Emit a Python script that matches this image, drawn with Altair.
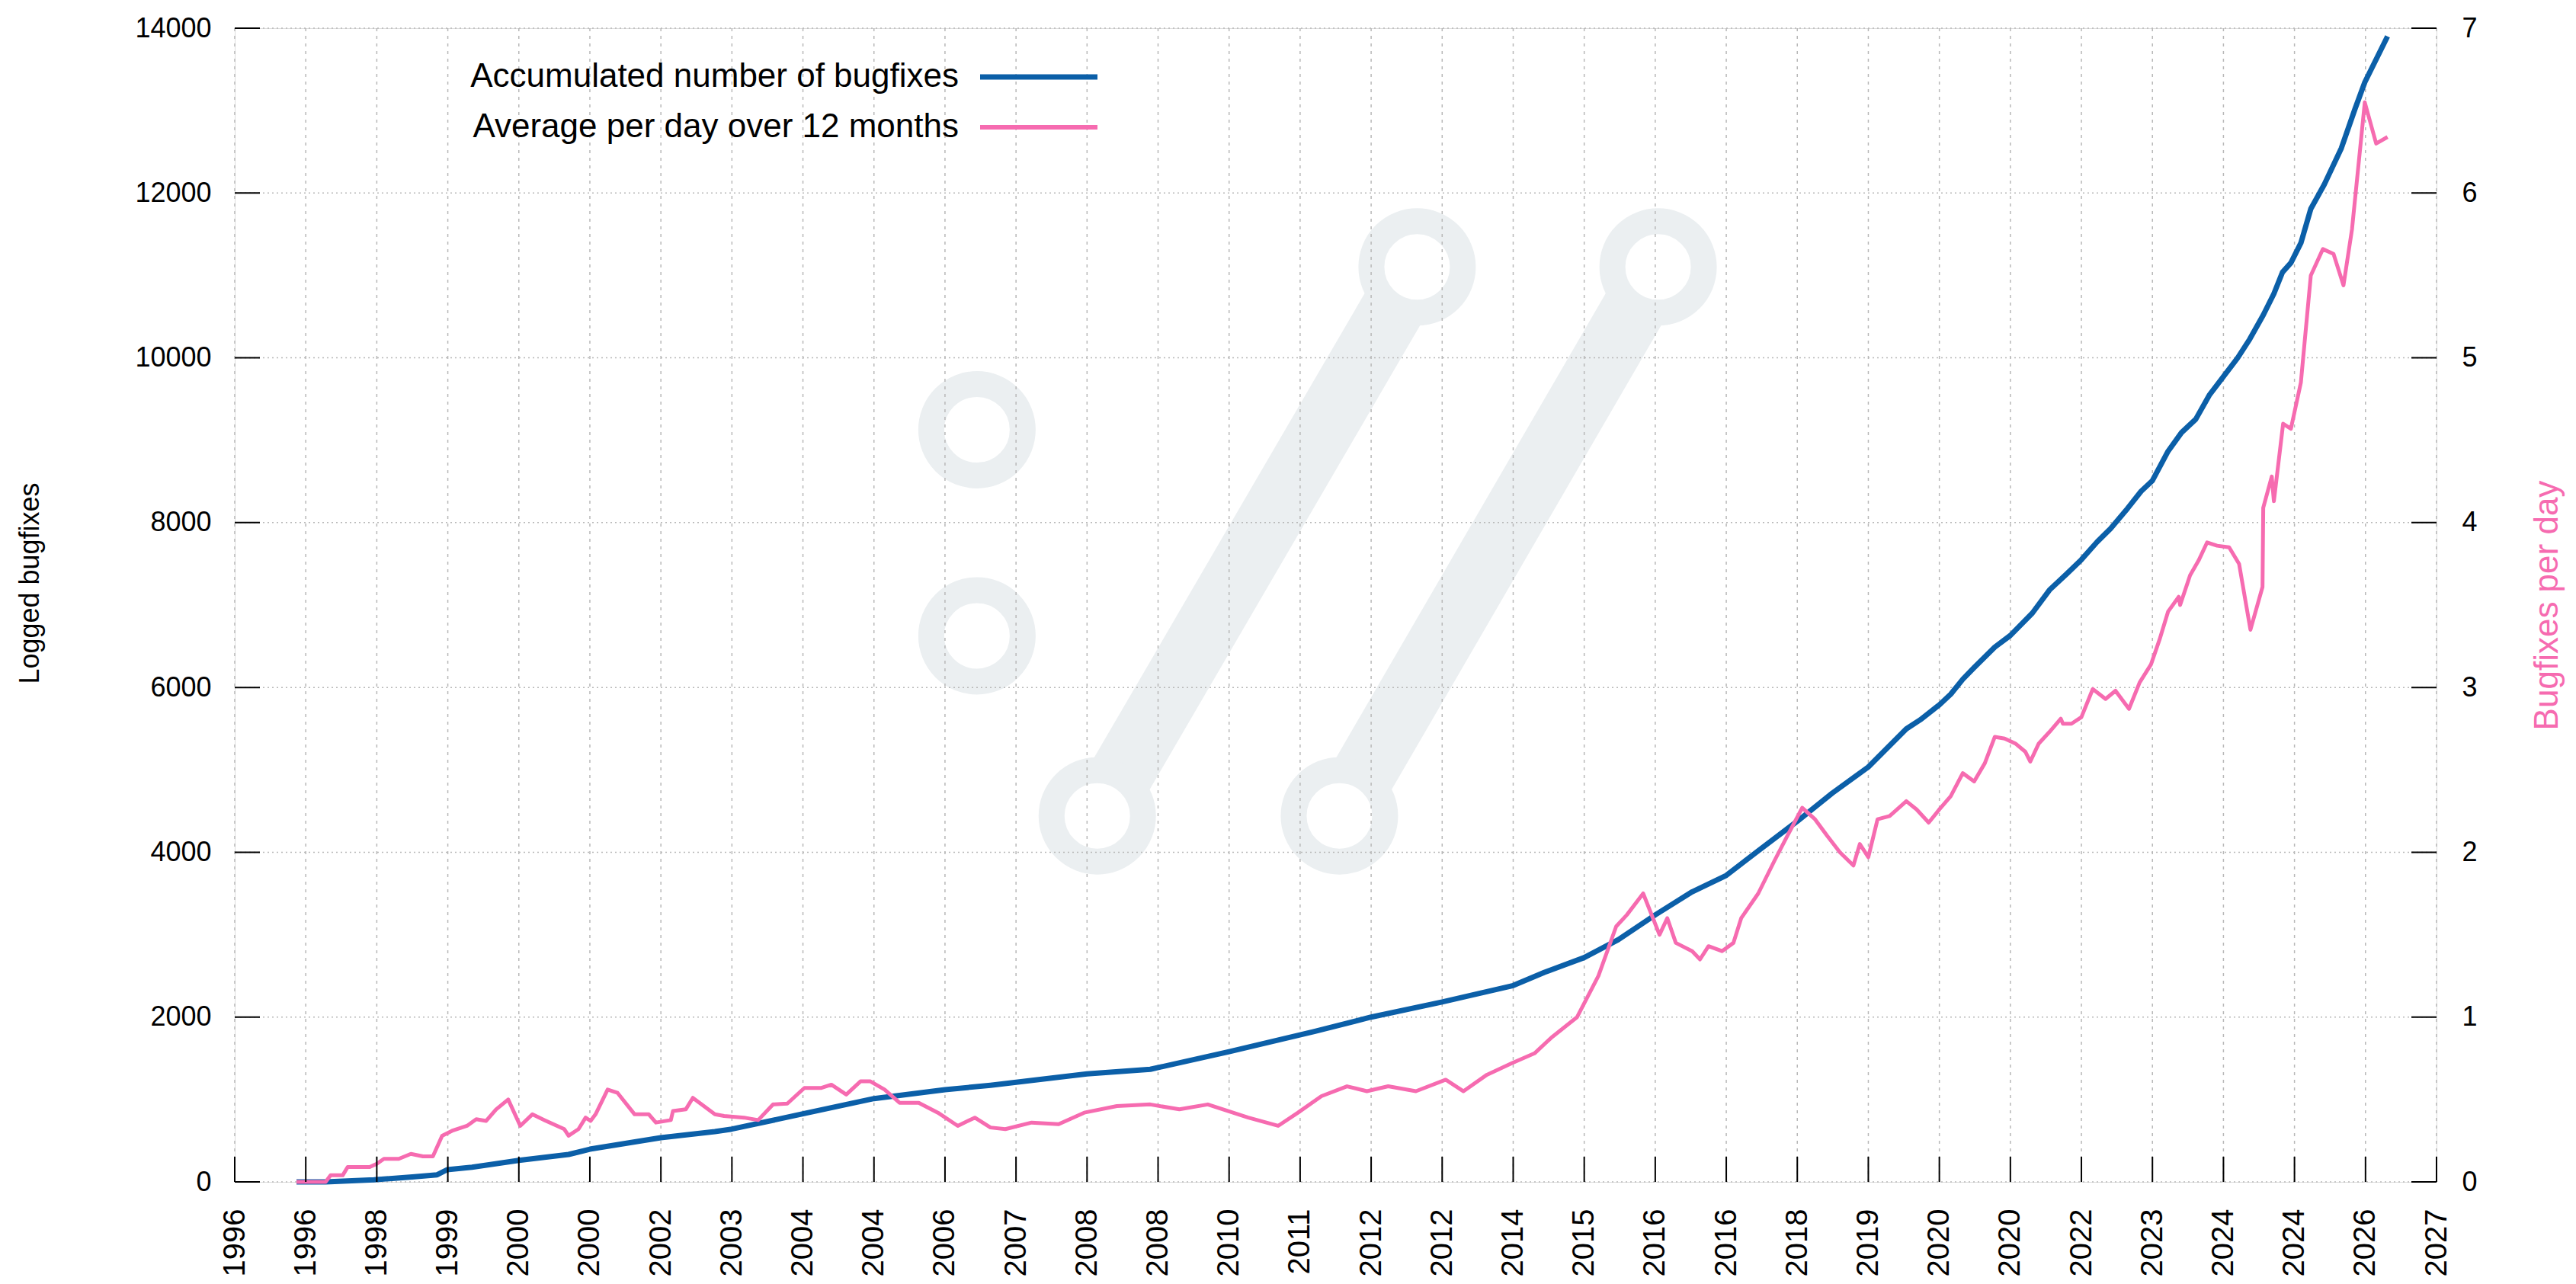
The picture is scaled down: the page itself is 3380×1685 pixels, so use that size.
import altair as alt
import pandas as pd

# ---------------- data ----------------
x_tick_labels = ["1996", "1996", "1998", "1999", "2000", "2000", "2002", "2003",
                 "2004", "2004", "2006", "2007", "2008", "2008", "2010", "2011",
                 "2012", "2012", "2014", "2015", "2016", "2016", "2018", "2019",
                 "2020", "2020", "2022", "2023", "2024", "2024", "2026", "2027"]
x_tick_values = list(range(1996, 2028))
y_left_ticks = [0, 2000, 4000, 6000, 8000, 10000, 12000, 14000]
y_right_ticks = [0, 1, 2, 3, 4, 5, 6, 7]

blue_years = [1996.87, 1997.28, 1997.96, 1998.5, 1998.85, 1998.99, 1999.34, 2000.0,
              2000.7, 2001.0, 2002.0, 2002.76, 2003.0, 2004.0, 2005.0, 2006.0,
              2006.64, 2007.5, 2008.0, 2008.89, 2010.0, 2011.2, 2012.0, 2013.0,
              2014.0, 2014.44, 2015.0, 2015.48, 2016.0, 2016.52, 2017.0, 2017.45,
              2018.0, 2018.49, 2019.0, 2019.535, 2019.73,
              2020.0, 2020.16, 2020.33, 2020.49, 2020.78, 2021.0, 2021.31, 2021.55,
              2021.79, 2022.0, 2022.22, 2022.41, 2022.65, 2022.84, 2023.0, 2023.22,
              2023.41, 2023.61, 2023.8, 2024.0, 2024.2, 2024.37, 2024.56, 2024.71,
              2024.83, 2024.95, 2025.09, 2025.23, 2025.42, 2025.66, 2025.85, 2025.99,
              2026.31]
blue_values = [0, 0, 25, 60, 86, 148, 178, 261,
               333, 397, 536, 610, 641, 826, 1011, 1118,
               1173, 1260, 1310, 1366, 1580, 1825, 2000, 2183,
               2383, 2543, 2722, 2940, 3240, 3520, 3719, 4018,
               4377, 4716, 5035, 5497, 5607,
               5789, 5918, 6100, 6242, 6489, 6631, 6903, 7182,
               7376, 7551, 7765, 7927, 8173, 8380, 8510, 8866,
               9093, 9255, 9546, 9773, 10000, 10227, 10518, 10777,
               11037, 11153, 11393, 11808, 12104, 12544, 13015, 13344,
               13900]

pink_years = [1996.87, 1997.28, 1997.35, 1997.52, 1997.59, 1997.90, 1998.00, 1998.10,
              1998.31, 1998.48, 1998.65, 1998.79, 1998.92, 1999.06, 1999.27, 1999.40,
              1999.54, 1999.68, 1999.85, 2000.02, 2000.19, 2000.36, 2000.64, 2000.70,
              2000.84, 2000.94, 2001.01, 2001.08, 2001.25, 2001.39, 2001.63, 2001.83,
              2001.93, 2002.14, 2002.17, 2002.35, 2002.45, 2002.76, 2002.89, 2003.17,
              2003.37, 2003.58, 2003.78, 2004.02, 2004.26, 2004.40, 2004.61, 2004.81,
              2004.95, 2005.15, 2005.36, 2005.63, 2005.90, 2006.18, 2006.42, 2006.64,
              2006.85, 2007.22, 2007.6, 2007.96, 2008.42, 2008.89, 2009.3, 2009.7,
              2010.27, 2010.69, 2010.97, 2011.3, 2011.66, 2011.94, 2012.24, 2012.63,
              2013.05, 2013.3, 2013.63, 2013.98, 2014.3, 2014.55, 2014.9, 2015.2,
              2015.45, 2015.6, 2015.83, 2016.06, 2016.17, 2016.29, 2016.52, 2016.63,
              2016.75, 2016.94, 2017.1, 2017.21, 2017.45, 2017.68, 2017.86, 2018.07,
              2018.25, 2018.42, 2018.6, 2018.79, 2018.88, 2019.0, 2019.13, 2019.3,
              2019.535, 2019.68, 2019.85, 2020.0, 2020.16, 2020.33, 2020.49, 2020.64,
              2020.78, 2020.92, 2021.07, 2021.21, 2021.28, 2021.40, 2021.55, 2021.71,
              2021.74, 2021.86, 2022.0, 2022.16, 2022.34, 2022.48, 2022.67, 2022.82,
              2022.98, 2023.10, 2023.22, 2023.37, 2023.39, 2023.53, 2023.65, 2023.77,
              2023.91, 2024.08, 2024.22, 2024.38, 2024.55, 2024.56, 2024.68, 2024.71,
              2024.84, 2024.95, 2025.09, 2025.23, 2025.40, 2025.55, 2025.69, 2025.81,
              2025.99, 2026.15, 2026.31]
pink_values = [0, 0, 0.04, 0.04, 0.09, 0.09, 0.11, 0.14,
               0.14, 0.17, 0.155, 0.155, 0.28, 0.31, 0.34, 0.38,
               0.37, 0.44, 0.50, 0.34, 0.41, 0.375, 0.32, 0.28,
               0.32, 0.39, 0.37, 0.41, 0.56, 0.54, 0.41, 0.41,
               0.36, 0.375, 0.43, 0.44, 0.51, 0.41, 0.40, 0.39,
               0.375, 0.47, 0.475, 0.57, 0.57, 0.59, 0.53, 0.61,
               0.61, 0.56, 0.48, 0.48, 0.42, 0.34, 0.39, 0.33,
               0.32, 0.36, 0.35, 0.42, 0.46, 0.47, 0.44, 0.47,
               0.39, 0.34, 0.42, 0.52, 0.58, 0.55, 0.58, 0.55,
               0.62, 0.55, 0.65, 0.72, 0.78, 0.88, 1.0, 1.25,
               1.55, 1.62, 1.75, 1.5, 1.6, 1.45, 1.4, 1.35,
               1.43, 1.4, 1.45, 1.6, 1.75, 1.95, 2.1, 2.27,
               2.2, 2.1, 2.0, 1.92, 2.05, 1.97, 2.2, 2.22,
               2.31, 2.26, 2.18, 2.26, 2.34, 2.48, 2.43, 2.54,
               2.70, 2.69, 2.66, 2.61, 2.55, 2.66, 2.73, 2.81,
               2.78, 2.78, 2.82, 2.99, 2.93, 2.98, 2.87, 3.03,
               3.14, 3.29, 3.46, 3.55, 3.50, 3.68, 3.77, 3.88,
               3.86, 3.85, 3.75, 3.35, 3.61, 4.09, 4.28, 4.13,
               4.60, 4.57, 4.85, 5.50, 5.66, 5.63, 5.44, 5.78,
               6.55, 6.30, 6.34]

# watermark (curl logo) placed in data units
logo_ring_x = [2006.45, 2006.45, 2008.144, 2012.647, 2011.553, 2016.04]
logo_ring_y = [9127, 6626, 4442, 11103, 4442, 11103]
logo_slash_from = [(2008.144, 4442), (2011.553, 4442)]
logo_slash_to = [(2012.647, 11103), (2016.04, 11103)]

legend_labels = ["Accumulated number of bugfixes", "Average per day over 12 months"]

# ---------------- styling ----------------
W, H = 2889, 1514
BLUE = "#0b5fa8"
PINK = "#f66bb0"
WM = "#ebeff1"
GRID = "#b8b8b8"
FONT = "Liberation Sans"
TICK_LEN = 33

blue_df = pd.DataFrame({"year": blue_years, "value": blue_values})
pink_df = pd.DataFrame({"year": pink_years, "value": pink_values})


def xs():
    return alt.Scale(domain=[1996, 2027], nice=False, zero=False)


def ys():
    return alt.Scale(domain=[0, 14000], nice=False)


label_expr = "[" + ",".join("'%s'" % s for s in x_tick_labels) + "][datum.value - 1996]"

# watermark
rings_df = pd.DataFrame({"year": logo_ring_x, "value": logo_ring_y})
rings = alt.Chart(rings_df).mark_point(
    shape="circle", filled=False, size=14400, strokeWidth=34, color=WM, opacity=1
).encode(
    x=alt.X("year:Q", scale=xs(), axis=None),
    y=alt.Y("value:Q", scale=ys(), axis=None),
)
frac = 0.072
slash_rows = []
for (x0, y0), (x1, y1) in zip(logo_slash_from, logo_slash_to):
    slash_rows.append({
        "x": x0 + (x1 - x0) * frac, "y": y0 + (y1 - y0) * frac,
        "x2": x1 - (x1 - x0) * frac, "y2": y1 - (y1 - y0) * frac,
    })
slashes = alt.Chart(pd.DataFrame(slash_rows)).mark_rule(
    strokeWidth=84, color=WM, strokeCap="butt"
).encode(
    x=alt.X("x:Q", scale=xs(), axis=None), x2="x2:Q",
    y=alt.Y("y:Q", scale=ys(), axis=None), y2="y2:Q",
)

# grid
vgrid = alt.Chart(pd.DataFrame({"year": x_tick_values})).mark_rule(
    color=GRID, strokeWidth=1.5, strokeDash=[4, 6]
).encode(x=alt.X("year:Q", scale=xs(), axis=None))
hgrid = alt.Chart(pd.DataFrame({"value": y_left_ticks})).mark_rule(
    color=GRID, strokeWidth=1.5, strokeDash=[2, 4]
).encode(y=alt.Y("value:Q", scale=ys(), axis=None))

# blue line with left axis and bottom axis
blue = alt.Chart(blue_df).mark_line(color=BLUE, strokeWidth=7, strokeJoin="round").encode(
    x=alt.X("year:Q", scale=xs(), axis=alt.Axis(
        orient="bottom", values=x_tick_values, labelExpr=label_expr, labelAngle=270,
        labelFontSize=40, labelFont=FONT, labelColor="black", labelPadding=35,
        ticks=False, domain=False, grid=False, title=None, labelOverlap=False,
        labelFlush=False)),
    y=alt.Y("value:Q", scale=ys(), axis=alt.Axis(
        orient="left", values=y_left_ticks, labelFontSize=36, labelFont=FONT,
        labelColor="black", labelPadding=31, ticks=False, domain=False, grid=False,
        format="d", title="Logged bugfixes", titleFont=FONT, titleFontSize=36,
        titleFontWeight="normal", titleColor="black", titlePadding=118,
        titleY=728, labelFlush=False)),
)

pink = alt.Chart(pink_df).mark_line(color=PINK, strokeWidth=5, strokeJoin="round").encode(
    x=alt.X("year:Q", scale=xs(), axis=None),
    y=alt.Y("value:Q", scale=alt.Scale(domain=[0, 7], nice=False), axis=alt.Axis(
        orient="right", values=y_right_ticks, labelFontSize=36, labelFont=FONT,
        labelColor="black", labelPadding=33, ticks=False, domain=False, grid=False,
        title="Bugfixes per day", titleFont=FONT, titleFontSize=44,
        titleFontWeight="normal", titleColor=PINK, titleAngle=270,
        titleBaseline="top", titlePadding=70, labelFlush=False)),
)

left_ticks = alt.Chart(pd.DataFrame({"value": y_left_ticks})).mark_rule(
    color="black", strokeWidth=2
).encode(y=alt.Y("value:Q", scale=ys(), axis=None),
         x=alt.value(0), x2=alt.value(TICK_LEN))
right_ticks = alt.Chart(pd.DataFrame({"value": y_left_ticks})).mark_rule(
    color="black", strokeWidth=2
).encode(y=alt.Y("value:Q", scale=ys(), axis=None),
         x=alt.value(W - TICK_LEN), x2=alt.value(W))
bottom_ticks = alt.Chart(pd.DataFrame({"year": x_tick_values})).mark_rule(
    color="black", strokeWidth=2
).encode(x=alt.X("year:Q", scale=xs(), axis=None),
         y=alt.value(H), y2=alt.value(H - TICK_LEN))

leg_df = pd.DataFrame({"label": legend_labels})
LEG_FS = 44
leg_text1 = alt.Chart(leg_df).transform_filter(alt.datum.label == legend_labels[0]).mark_text(
    align="right", baseline="middle", fontSize=LEG_FS, font=FONT, color="black"
).encode(text="label:N", x=alt.value(950), y=alt.value(64))
leg_text2 = alt.Chart(leg_df).transform_filter(alt.datum.label == legend_labels[1]).mark_text(
    align="right", baseline="middle", fontSize=LEG_FS, font=FONT, color="black"
).encode(text="label:N", x=alt.value(950), y=alt.value(130))
leg_line1 = alt.Chart(leg_df).transform_filter(alt.datum.label == legend_labels[0]).mark_rule(
    color=BLUE, strokeWidth=7
).encode(x=alt.value(978), x2=alt.value(1132), y=alt.value(64))
leg_line2 = alt.Chart(leg_df).transform_filter(alt.datum.label == legend_labels[1]).mark_rule(
    color=PINK, strokeWidth=6
).encode(x=alt.value(978), x2=alt.value(1132), y=alt.value(130))

chart = alt.layer(
    slashes, rings, vgrid, hgrid, blue, pink, left_ticks, right_ticks, bottom_ticks,
    leg_text1, leg_text2, leg_line1, leg_line2
).resolve_scale(x="independent", y="independent").properties(
    width=W, height=H,
    autosize=alt.AutoSizeParams(type="none"),
    padding={"left": 300, "top": 29, "right": 174, "bottom": 126},
).configure_view(stroke=None).configure(background="white")

chart.save("out.html", embed_options={"renderer": "svg", "actions": False})
